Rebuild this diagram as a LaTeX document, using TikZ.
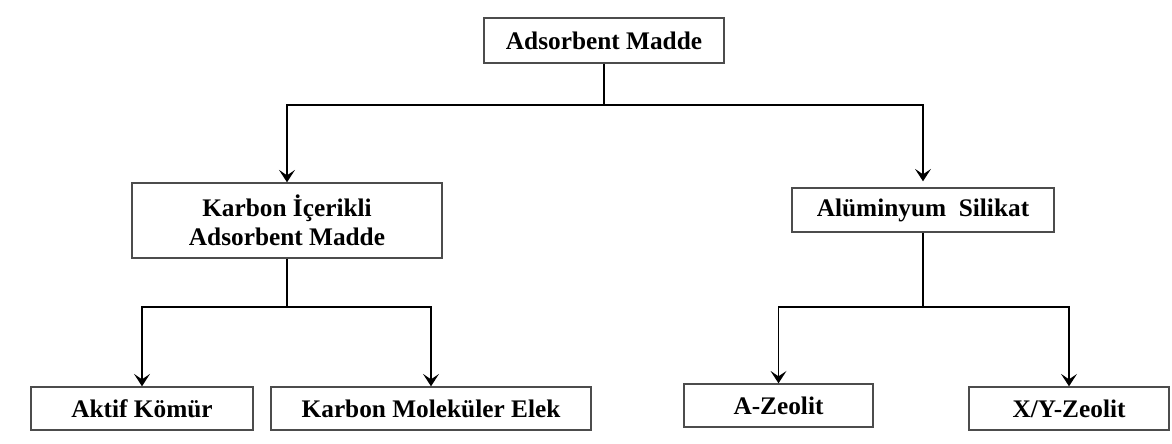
\documentclass[tikz,border=0pt]{standalone}
\usepackage{fontspec}
\setmainfont{Liberation Serif}
\usetikzlibrary{arrows.meta, positioning}
\tikzset{
  box/.style = {
    rectangle, draw=black!70, line width=0.8pt, fill=white,
    minimum height=8.6mm, inner sep=2pt, align=center,
    font=\fontsize{14.4}{16.5}\selectfont\bfseries
  },
  link/.style = {line width=1.1pt},
  myarrow/.style = {link, -{Stealth[length=7pt, width=9pt, inset=3pt]}}
}

\begin{document}
\begin{tikzpicture}[x=0.2mm, y=-0.2mm]
  \useasboundingbox (0,0) rectangle (1172,443);

  % Boxes
  \node[box, minimum width=48mm, minimum height=9mm] (ADS) at (604,40.5) {Adsorbent Madde};
  \node[box, minimum width=62mm, minimum height=15mm] (KIC) at (287,220.5)
    {Karbon İçerikli\\Adsorbent Madde};
  \node[box, minimum width=52.4mm, minimum height=8.8mm] (ALU) at (923,210) {Alüminyum~ Silikat};
  \node[box, minimum width=44.4mm] (AKK) at (142,408.5) {Aktif Kömür};
  \node[box, minimum width=64mm]   (KME) at (431,408.5) {Karbon Moleküler Elek};
  \node[box, minimum width=37.8mm] (AZE) at (778.5,405.5) {A-Zeolit};
  \node[box, minimum width=40mm]   (XYZ) at (1069,408.5) {X/Y-Zeolit};

  % Junctions
  \coordinate (TOPJ) at (604,105);
  \coordinate (KICJ) at (287,307);
  \coordinate (ALUJ) at (923,307);

  % Connectors
  \draw[link] (ADS.south) -- (TOPJ);
  \draw[myarrow] (TOPJ) -| (KIC.north);
  \draw[myarrow, shorten >=1.2mm] (TOPJ) -| (ALU.north);

  \draw[link] (KIC.south) -- (KICJ);
  \draw[myarrow] (KICJ) -| (AKK.north);
  \draw[myarrow] (KICJ) -| (KME.north);

  \draw[link] (ALU.south) -- (ALUJ);
  \draw[myarrow] (ALUJ) -| (AZE.north);
  \draw[myarrow] (ALUJ) -| (XYZ.north);
\end{tikzpicture}
\end{document}
